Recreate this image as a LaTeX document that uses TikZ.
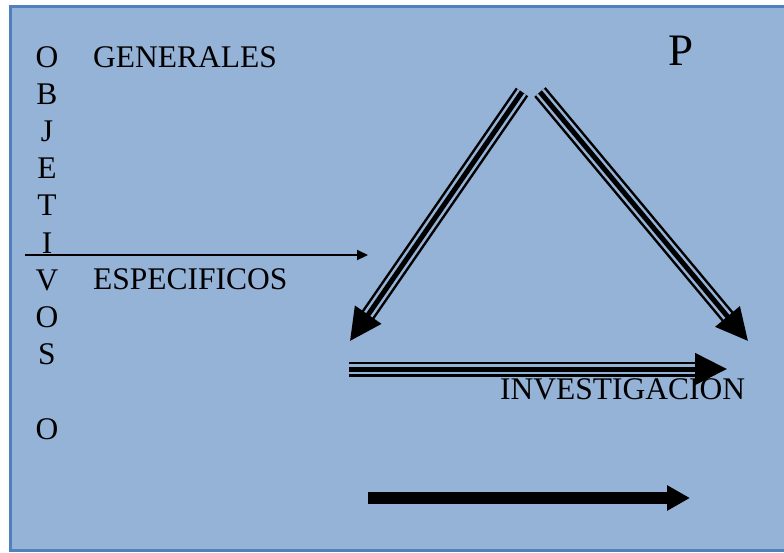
\documentclass[tikz,border=0pt]{standalone}
\usepackage{fontspec}
\setmainfont{Liberation Serif}
\usepackage{tikz}
\usetikzlibrary{arrows.meta}
\definecolor{fondo}{RGB}{149,179,215}
\definecolor{marco}{RGB}{79,129,189}

\begin{document}
\begin{tikzpicture}[x=1pt, y=-1pt, node distance=37.2pt,
letra/.style={inner sep=0pt, text height=21pt, text depth=0pt, font=\fontsize{31.5}{37}\selectfont},
texto/.style={inner sep=0pt, anchor=base west, font=\fontsize{31.5}{37}\selectfont},
triple/.style={line width=5pt, -{Triangle[length=32pt,width=31pt]},
  preaction={draw=black, line width=15pt, shorten >=30pt, arrows=-},
  preaction={draw=fondo, line width=10pt, shorten >=30pt, arrows=-}}
]
\useasboundingbox (0,0) rectangle (784,552);
%Fondo
\fill[fondo] (10,6) rectangle (800,551);
\draw[marco, line width=3pt] (800,6) -- (10,6) -- (10,550.5) -- (800,550.5);
%Nodes
\node[letra]      (o1)     at (47,56.5)           {O};
\node[letra]      (b)      [below of =o1]         {B};
\node[letra]      (j)      [below of =b]          {J};
\node[letra]      (e)      [below of =j]          {E};
\node[letra]      (t)      [below of =e]          {T};
\node[letra]      (i)      [below of =t]          {I};
\node[letra]      (v)      [below of =i]          {V};
\node[letra]      (o2)     [below of =v]          {O};
\node[letra]      (s)      [below of =o2]         {S};
\node[letra]      (o3)     [below of =s, yshift=-37.2pt] {O};
\node[texto]      (gen)    at (93,67)             {GENERALES};
\node[texto]      (esp)    at (93,289)            {ESPECIFICOS};
\node[texto]      (inv)    at (500,399)           {INVESTIGACION};
\node[texto, font=\fontsize{45}{50}\selectfont] (p) at (668,65) {P};
%Puntos
\coordinate (flechaA) at (25,255);
\coordinate (flechaB) at (368,255);
\coordinate (vertI)   at (522,92);
\coordinate (vertD)   at (540,92);
\coordinate (baseI)   at (350,341);
\coordinate (baseD)   at (748,341);
\coordinate (invA)    at (349,369);
\coordinate (invB)    at (727,369);
\coordinate (gruesoA) at (368,498);
\coordinate (gruesoB) at (690,498);
%Lines
\draw[line width=2.2pt, -{Triangle[length=11pt,width=10pt]}] (flechaA) -- (flechaB);
\draw[triple] (vertI) -- (baseI);
\draw[triple] (vertD) -- (baseD);
\draw[triple] (invA) -- (invB);
\draw[line width=12pt, -{Triangle[length=23pt,width=24pt]}] (gruesoA) -- (gruesoB);
\end{tikzpicture}
\end{document}
